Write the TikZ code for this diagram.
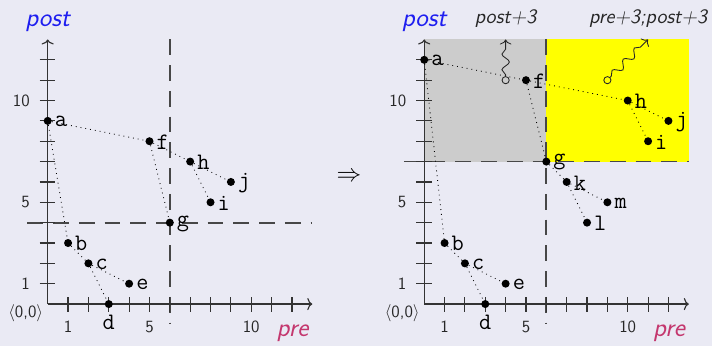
\documentclass[tikz,border=0pt]{standalone}
\usetikzlibrary{arrows.meta,decorations.pathmorphing}
\definecolor{bg}{RGB}{234,234,244}
\definecolor{postblue}{RGB}{30,30,240}
\definecolor{premag}{RGB}{196,55,110}
\definecolor{shadegray}{RGB}{204,204,204}
\definecolor{shadeyellow}{RGB}{255,255,0}
\begin{document}
\begin{tikzpicture}[x=0.5cm,y=0.5cm,
  dot/.style={circle,fill=black,inner sep=0pt,minimum size=5.6pt},
  lab/.style={font=\fontsize{16.5}{16.5}\selectfont\ttfamily,inner sep=0pt,anchor=west,xshift=4.8pt,yshift=-0.6pt},
  labd/.style={font=\fontsize{16.5}{16.5}\selectfont\ttfamily,inner sep=0pt,anchor=north,yshift=-7.5pt},
  edge/.style={line width=0.6pt,dash pattern=on 0.6pt off 2.8pt},
  axisline/.style={line width=0.8pt,black!80,-{To[length=3.5pt,width=8.5pt]}},
  tickline/.style={line width=0.8pt,black!80},
  guide/.style={line width=1.2pt,black!72,dash pattern=on 11pt off 7pt},
  num/.style={font=\fontsize{12}{12}\selectfont\sffamily,text=black!85,inner sep=0pt},
  axlab/.style={font=\fontsize{18.5}{18.5}\selectfont\sffamily\itshape,inner sep=0pt,anchor=base},
  small/.style={font=\fontsize{14.3}{14.3}\selectfont\sffamily\itshape,text=black!85,inner sep=0pt,anchor=base},
  ring/.style={circle,draw=black!85,line width=0.6pt,inner sep=0pt,minimum size=5pt},
  wave/.style={black!85,line width=0.6pt,decorate,decoration={snake,segment length=11pt,amplitude=2.6pt,pre length=1pt,post length=3pt},-{To[length=3.5pt,width=8pt]}}]
\fill[bg] (-2.344,-2.064) rectangle (32.64,14.94);
\useasboundingbox (-2.344,-2.064) rectangle (32.64,14.94);

% ---------- left plot ----------
\begin{scope}
\draw[guide] (6,13) -- (6,-1);
\draw[guide] (-1,4) -- (13,4);
\draw[axisline] (0,0) -- (13,0);
\draw[axisline] (0,0) -- (0,13);
\foreach \i in {1,...,12} {\draw[tickline] (\i,-0.37) -- (\i,0.37);}
\foreach \i in {1,...,12} {\draw[tickline] (-0.4,\i) -- (0.37,\i);}
\node[num] (lx1) at (1,-1.12) {1};
\node[num] (lx5) at (5,-1.12) {5};
\node[num] (lx10) at (10,-1.12) {10};
\node[num,anchor=east] (ly1) at (-0.87,1) {1};
\node[num,anchor=east] (ly5) at (-0.87,5) {5};
\node[num,anchor=east] (ly10) at (-0.87,10) {10};
\node[num] (lo) at (-1.08,-0.46) {$\langle$0,0$\rangle$};
\node[axlab,text=postblue] (lpost) at (0,13.66) {post};
\node[axlab,text=premag] (lpre) at (12.03,-1.57) {pre};
\node[dot] (la) at (0,9) {};
\node[dot] (lb) at (1,3) {};
\node[dot] (lc) at (2,2) {};
\node[dot] (ld) at (3,0) {};
\node[dot] (le) at (4,1) {};
\node[dot] (lf) at (5,8) {};
\node[dot] (lg) at (6,4) {};
\node[dot] (lh) at (7,7) {};
\node[dot] (li) at (8,5) {};
\node[dot] (lj) at (9,6) {};
\draw[edge] (la) -- (lf);
\draw[edge] (la) -- (lb);
\draw[edge] (lf) -- (lg);
\draw[edge] (lf) -- (lh);
\draw[edge] (lh) -- (lj);
\draw[edge] (lh) -- (li);
\draw[edge] (lb) -- (lc);
\draw[edge] (lc) -- (le);
\draw[edge] (lc) -- (ld);
\node[lab] at (la.center) {a};
\node[lab] at (lb.center) {b};
\node[lab] at (lc.center) {c};
\node[labd] at (ld.center) {d};
\node[lab] at (le.center) {e};
\node[lab] at (lf.center) {f};
\node[lab] at (lg.center) {g};
\node[lab] at (lh.center) {h};
\node[lab] at (li.center) {i};
\node[lab] at (lj.center) {j};
\end{scope}

\node[font=\fontsize{16.5}{16.5}\selectfont,inner sep=0pt] (arr) at (14.8,6.23) {$\Rightarrow$};

% ---------- right plot ----------
\begin{scope}[shift={(18.5,0)}]
\fill[shadegray] (0,7) rectangle (6,13);
\fill[shadeyellow] (6,7) rectangle (13,13);
\draw[guide] (6,13) -- (6,-1);
\draw[guide] (-1,7) -- (13,7);
\draw[axisline] (0,0) -- (13,0);
\draw[axisline] (0,0) -- (0,13);
\foreach \i in {1,...,12} {\draw[tickline] (\i,-0.37) -- (\i,0.37);}
\foreach \i in {1,...,12} {\draw[tickline] (-0.4,\i) -- (0.37,\i);}
\node[num] (rx1) at (1,-1.12) {1};
\node[num] (rx5) at (5,-1.12) {5};
\node[num] (rx10) at (10,-1.12) {10};
\node[num,anchor=east] (ry1) at (-0.87,1) {1};
\node[num,anchor=east] (ry5) at (-0.87,5) {5};
\node[num,anchor=east] (ry10) at (-0.87,10) {10};
\node[num] (ro) at (-1.08,-0.46) {$\langle$0,0$\rangle$};
\node[axlab,text=postblue] (rpost) at (0,13.66) {post};
\node[axlab,text=premag] (rpre) at (12.03,-1.57) {pre};
\node[small] (rp3) at (4,13.79) {post+3};
\node[small] (rpp3) at (11,13.79) {pre+3;post+3};
\node[dot] (ra) at (0,12) {};
\node[dot] (rb) at (1,3) {};
\node[dot] (rc) at (2,2) {};
\node[dot] (rd) at (3,0) {};
\node[dot] (re) at (4,1) {};
\node[dot] (rf) at (5,11) {};
\node[dot] (rg) at (6,7) {};
\node[dot] (rh) at (10,10) {};
\node[dot] (ri) at (11,8) {};
\node[dot] (rj) at (12,9) {};
\node[dot] (rk) at (7,6) {};
\node[dot] (rl) at (8,4) {};
\node[dot] (rm) at (9,5) {};
\draw[edge] (ra) -- (rf);
\draw[edge] (ra) -- (rb);
\draw[edge] (rf) -- (rg);
\draw[edge] (rf) -- (rh);
\draw[edge] (rh) -- (rj);
\draw[edge] (rh) -- (ri);
\draw[edge] (rg) -- (rk);
\draw[edge] (rk) -- (rm);
\draw[edge] (rk) -- (rl);
\draw[edge] (rb) -- (rc);
\draw[edge] (rc) -- (re);
\draw[edge] (rc) -- (rd);
\node[lab] at (ra.center) {a};
\node[lab] at (rb.center) {b};
\node[lab] at (rc.center) {c};
\node[labd] at (rd.center) {d};
\node[lab] at (re.center) {e};
\node[lab] at (rf.center) {f};
\node[lab] at (rg.center) {g};
\node[lab] at (rh.center) {h};
\node[lab] at (ri.center) {i};
\node[lab] at (rj.center) {j};
\node[lab] at (rk.center) {k};
\node[lab] at (rl.center) {l};
\node[lab] at (rm.center) {m};
\node[ring] (c1) at (4,11) {};
\coordinate (t1) at (4,13);
\draw[wave] (c1) -- (t1);
\node[ring] (c2) at (9,11) {};
\coordinate (t2) at (11,13);
\draw[wave] (c2) -- (t2);
\end{scope}
\end{tikzpicture}
\end{document}
